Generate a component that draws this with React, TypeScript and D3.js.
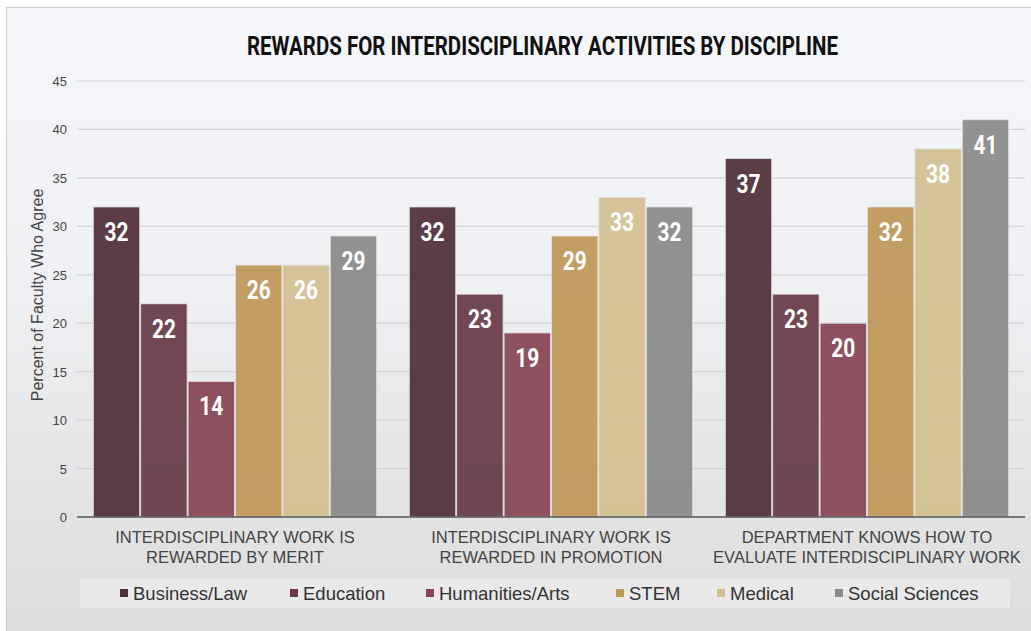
import React, { useRef, useEffect } from 'react';
import * as d3 from 'd3';

const categories = [
  ['INTERDISCIPLINARY WORK IS', 'REWARDED BY MERIT'],
  ['INTERDISCIPLINARY WORK IS', 'REWARDED IN PROMOTION'],
  ['DEPARTMENT KNOWS HOW TO', 'EVALUATE INTERDISCIPLINARY WORK'],
];
const seriesNames = ['Business/Law', 'Education', 'Humanities/Arts', 'STEM', 'Medical', 'Social Sciences'];
const seriesColors = ['#4f2f38', '#663a46', '#874554', '#c09858', '#d3bf91', '#8a8a8a'];
const businessLaw = [32, 32, 37];
const education = [22, 23, 23];
const humanities = [14, 19, 20];
const stem = [26, 29, 32];
const medical = [26, 33, 38];
const socialSciences = [29, 32, 41];
const yTicks = [0, 5, 10, 15, 20, 25, 30, 35, 40, 45];
const legendX = [120, 290, 426, 616, 717, 835];

const App = () => {
  const svgRef = useRef<SVGSVGElement>(null);

  useEffect(() => {
    const width = 1031, height = 631;
    const svg = d3.select(svgRef.current).attr('width', width).attr('height', height);
    svg.selectAll('*').remove();

    const values = [businessLaw, education, humanities, stem, medical, socialSciences];
    const bold = 'Roboto, "Noto Sans", sans-serif';
    const sans = '"Liberation Sans", Arial, sans-serif';

    const defs = svg.append('defs');
    const grad = defs.append('linearGradient').attr('id', 'bg').attr('x1', 0).attr('y1', 0).attr('x2', 0).attr('y2', 1);
    grad.append('stop').attr('offset', '0%').attr('stop-color', '#f6f7fb');
    grad.append('stop').attr('offset', '45%').attr('stop-color', '#eff0f3');
    grad.append('stop').attr('offset', '100%').attr('stop-color', '#dcdcdc');

    svg.append('rect').attr('width', width).attr('height', height).attr('fill', '#ffffff');
    svg.append('rect')
      .attr('x', 6.5).attr('y', 7.5).attr('width', width).attr('height', height)
      .attr('fill', 'url(#bg)').attr('stroke', '#cfcfcf').attr('stroke-width', 1.2);

    const left = 77, right = 1025, top = 81, bottom = 517;
    const y = d3.scaleLinear().domain([0, 45]).range([bottom, top]);
    const x0 = d3.scaleBand<number>().domain([0, 1, 2]).range([left, right]).paddingInner(0.1).paddingOuter(0.05);
    const x1 = d3.scaleBand<number>().domain(d3.range(6)).range([0, x0.bandwidth()]);

    // grid
    svg.append('g').selectAll('line').data(yTicks.filter(t => t > 0)).enter().append('line')
      .attr('x1', left).attr('x2', right)
      .attr('y1', d => y(d)).attr('y2', d => y(d))
      .attr('stroke', '#d2d3d6').attr('stroke-width', 1.2);

    svg.append('g').selectAll('text').data(yTicks).enter().append('text')
      .attr('x', 67).attr('y', d => y(d) + 5)
      .attr('text-anchor', 'end')
      .attr('font-family', sans).attr('font-size', 13).attr('fill', '#444')
      .text(d => d);

    // bars
    const groups = svg.append('g').selectAll('g').data(d3.range(3)).enter().append('g')
      .attr('transform', d => `translate(${x0(d)},0)`);

    groups.selectAll('rect').data(c => values.map((v, s) => ({ s, v: v[c] }))).enter().append('rect')
      .attr('x', d => x1(d.s)! + 0.5)
      .attr('y', d => y(d.v))
      .attr('width', x1.bandwidth() - 1)
      .attr('height', d => bottom - y(d.v))
      .attr('fill', d => seriesColors[d.s])
      .attr('fill-opacity', 0.93)
      .attr('stroke', '#e4e2e2').attr('stroke-width', 0.8);

    groups.selectAll('text').data(c => values.map((v, s) => ({ s, v: v[c] }))).enter().append('text')
      .attr('x', d => x1(d.s)! + x1.bandwidth() / 2 - 12)
      .attr('y', d => y(d.v) + 34)
      .attr('textLength', 24).attr('lengthAdjust', 'spacingAndGlyphs')
      .attr('font-family', bold).attr('font-weight', 'bold').attr('font-size', 26)
      .attr('fill', '#ffffff')
      .text(d => d.v);

    // baseline
    svg.append('line').attr('x1', left).attr('x2', right).attr('y1', bottom).attr('y2', bottom)
      .attr('stroke', '#555').attr('stroke-width', 1.5);

    // category labels
    const cat = svg.append('g').selectAll('text').data(categories).enter().append('text')
      .attr('text-anchor', 'middle')
      .attr('font-family', sans).attr('font-size', 16.5).attr('fill', '#444');
    cat.each(function (d, i) {
      const t = d3.select(this);
      d.forEach((line, j) => {
        t.append('tspan').attr('x', x0(i)! + x0.bandwidth() / 2).attr('y', 543 + j * 20).text(line);
      });
    });

    // title
    svg.append('text').attr('x', 247).attr('y', 55)
      .attr('textLength', 591).attr('lengthAdjust', 'spacingAndGlyphs')
      .attr('font-family', bold).attr('font-weight', 'bold').attr('font-size', 25.5).attr('fill', '#111')
      .text('REWARDS FOR INTERDISCIPLINARY ACTIVITIES BY DISCIPLINE');

    // y title
    svg.append('text').attr('transform', `translate(43,295) rotate(-90)`)
      .attr('text-anchor', 'middle')
      .attr('font-family', sans).attr('font-size', 16).attr('fill', '#444')
      .text('Percent of Faculty Who Agree');

    // legend
    svg.append('rect').attr('x', 80).attr('y', 579).attr('width', 930).attr('height', 29)
      .attr('fill', '#e9e9ea');
    const leg = svg.append('g').selectAll('g').data(seriesNames).enter().append('g')
      .attr('transform', (d, i) => `translate(${legendX[i]},593)`);
    leg.append('rect').attr('x', 0).attr('y', -4).attr('width', 8).attr('height', 8)
      .attr('fill', (d, i) => seriesColors[i]);
    leg.append('text').attr('x', 13).attr('y', 7)
      .attr('font-family', sans).attr('font-size', 18.5).attr('fill', '#333')
      .text(d => d);
  }, []);

  return <svg ref={svgRef} style={{ position: 'absolute', left: 0, top: 0 }}></svg>;
};

export default App;
